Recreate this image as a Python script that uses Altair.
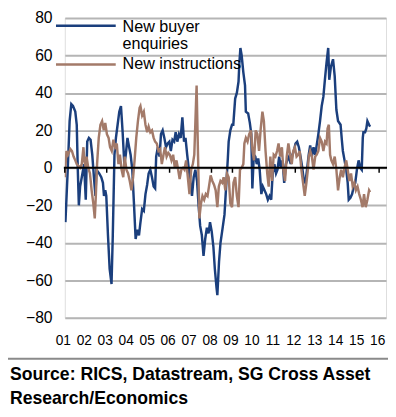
import altair as alt
import pandas as pd

# ---------------- data ----------------
blue_years = [
    2001.03, 2001.14, 2001.23, 2001.31, 2001.39, 2001.50, 2001.57, 2001.62, 2001.67, 2001.73,
    2001.81, 2001.92, 2002.00, 2002.07, 2002.15, 2002.23, 2002.31, 2002.39, 2002.46, 2002.51,
    2002.64, 2002.74, 2002.82, 2002.87, 2002.93, 2002.98, 2003.06, 2003.14, 2003.23, 2003.29,
    2003.37, 2003.44, 2003.52, 2003.60, 2003.68, 2003.76, 2003.84, 2003.91, 2003.99, 2004.07,
    2004.14, 2004.22, 2004.30, 2004.38, 2004.46, 2004.54, 2004.60, 2004.69, 2004.77, 2004.85,
    2004.93, 2005.00, 2005.08, 2005.16, 2005.24, 2005.31, 2005.36, 2005.44, 2005.52, 2005.59,
    2005.67, 2005.75, 2005.83, 2005.91, 2005.99, 2006.06, 2006.14, 2006.22, 2006.29, 2006.37,
    2006.45, 2006.53, 2006.61, 2006.69, 2006.76, 2006.84, 2006.92, 2007.00, 2007.07, 2007.15,
    2007.23, 2007.31, 2007.39, 2007.46, 2007.54, 2007.62, 2007.70, 2007.78, 2007.86, 2007.93,
    2008.01, 2008.09, 2008.16, 2008.24, 2008.28, 2008.36, 2008.43, 2008.52, 2008.62, 2008.71,
    2008.78, 2008.82, 2008.90, 2008.98, 2009.04, 2009.13, 2009.21, 2009.29, 2009.33, 2009.38,
    2009.44, 2009.52, 2009.60, 2009.64, 2009.75, 2009.83, 2009.90, 2009.95, 2010.02, 2010.09,
    2010.16, 2010.23, 2010.30, 2010.38, 2010.45, 2010.53, 2010.61, 2010.69, 2010.77, 2010.85,
    2010.92, 2011.00, 2011.08, 2011.15, 2011.23, 2011.31, 2011.39, 2011.47, 2011.55, 2011.62,
    2011.70, 2011.78, 2011.86, 2011.93, 2012.01, 2012.09, 2012.17, 2012.25, 2012.32, 2012.40,
    2012.48, 2012.56, 2012.64, 2012.71, 2012.79, 2012.87, 2012.95, 2013.02, 2013.10, 2013.18,
    2013.26, 2013.34, 2013.42, 2013.49, 2013.57, 2013.62, 2013.70, 2013.80, 2013.88, 2013.96,
    2014.04, 2014.16, 2014.22, 2014.27, 2014.35, 2014.43, 2014.50, 2014.55, 2014.63, 2014.71,
    2014.79, 2014.86, 2014.94, 2015.02, 2015.10, 2015.17, 2015.22, 2015.25, 2015.33, 2015.39,
    2015.44, 2015.52, 2015.57,
]
blue_vals = [
    -29, -1, 25, 34, 33, 30, 23, -1, -20, -10,
    -5, 2, -17, 14, 16, 15, 7, -5, -15, -1,
    -3, -5, -8, -15, -12, -15, -36, -54, -62, -36,
    7, 16, 23, 30, 33, 19, 2, 7, 16, 11,
    7, -1, -19, -38, -33, -36, -30, -22, -23, -14,
    -9, -3, -1, -5, -10, -11, 6, 11, 6, 18,
    20, 16, 11, 13, 14, 9, 15, 14, 19, 14,
    18, 16, 27, 14, 16, 7, -1, -8, -15, -5,
    -1, -7, -21, -31, -36, -47, -38, -32, -35, -29,
    -34, -42, -54, -64, -68, -50, -40, -33, -25, -8,
    5, 14, 20, 23, 23, 37, 40, 46, 56, 64,
    60, 51, 44, 30, 29, 24, 18, -11, 7, 6,
    2, 5, -1, -14, -10, -12, -14, -17, -15, -17,
    -3, 2, -3, -1, 6, 0, 4, -8, 2, 4,
    6, 2, 7, 9, 13, 14, 11, 6, 1, -6,
    -8, -1, 7, 12, 6, 11, 7, 12, 18, 25,
    33, 38, 48, 56, 64, 47, 54, 58, 49, 31,
    25, 23, 15, 9, 4, -1, -8, -17, -16, -14,
    -10, -8, -1, 4, 0, -1, 16, 19, 19, 21,
    25, 23, 22,
]

brown_years = [
    2001.00, 2001.08, 2001.15, 2001.27, 2001.34, 2001.42, 2001.50, 2001.57, 2001.65, 2001.73,
    2001.81, 2001.89, 2001.93, 2002.00, 2002.04, 2002.12, 2002.20, 2002.28, 2002.36, 2002.43,
    2002.48, 2002.54, 2002.62, 2002.70, 2002.78, 2002.86, 2002.93, 2003.01, 2003.09, 2003.16,
    2003.24, 2003.32, 2003.40, 2003.48, 2003.56, 2003.63, 2003.71, 2003.79, 2003.86, 2003.94,
    2004.02, 2004.10, 2004.18, 2004.26, 2004.33, 2004.41, 2004.49, 2004.57, 2004.61, 2004.69,
    2004.77, 2004.85, 2004.93, 2005.00, 2005.08, 2005.16, 2005.24, 2005.31, 2005.39, 2005.47,
    2005.55, 2005.63, 2005.71, 2005.78, 2005.86, 2005.94, 2006.01, 2006.09, 2006.17, 2006.25,
    2006.33, 2006.41, 2006.48, 2006.56, 2006.64, 2006.71, 2006.79, 2006.87, 2006.95, 2007.03,
    2007.11, 2007.18, 2007.26, 2007.29, 2007.34, 2007.39, 2007.42, 2007.50, 2007.57, 2007.65,
    2007.73, 2007.81, 2007.88, 2007.96, 2008.04, 2008.12, 2008.20, 2008.28, 2008.35, 2008.43,
    2008.51, 2008.58, 2008.66, 2008.74, 2008.82, 2008.90, 2008.98, 2009.05, 2009.13, 2009.21,
    2009.29, 2009.36, 2009.44, 2009.52, 2009.57, 2009.64, 2009.72, 2009.80, 2009.88, 2009.96,
    2010.03, 2010.11, 2010.19, 2010.27, 2010.35, 2010.43, 2010.50, 2010.58, 2010.66, 2010.73,
    2010.81, 2010.89, 2010.97, 2011.05, 2011.13, 2011.20, 2011.28, 2011.36, 2011.43, 2011.51,
    2011.59, 2011.67, 2011.75, 2011.83, 2011.90, 2011.98, 2012.06, 2012.14, 2012.21, 2012.29,
    2012.37, 2012.45, 2012.53, 2012.60, 2012.64, 2012.71, 2012.79, 2012.87, 2012.95, 2013.02,
    2013.10, 2013.18, 2013.26, 2013.34, 2013.42, 2013.49, 2013.54, 2013.60, 2013.66, 2013.72,
    2013.80, 2013.88, 2013.96, 2014.04, 2014.12, 2014.19, 2014.27, 2014.35, 2014.43, 2014.50,
    2014.58, 2014.66, 2014.74, 2014.82, 2014.89, 2014.97, 2015.05, 2015.13, 2015.21, 2015.28,
    2015.36, 2015.44, 2015.52, 2015.57,
]
brown_vals = [
    -5, 9, 7, 10, 9, 6, 4, 2, 1, 0,
    2, 11, 4, 0, 6, 0, -3, -12, -19, -27,
    -15, 2, 16, 23, 25, 20, 24, 18, 16, 11,
    9, 15, 11, 13, 2, 7, -1, -5, 6, -1,
    -3, -7, -12, -5, 4, 16, 25, 32, 33, 28,
    30, 23, 19, 22, 19, 20, 16, 14, 13, 9,
    10, 2, 7, 11, 6, 8, 7, 4, 7, 0,
    4, -1, -6, -1, 0, -1, 4, -5, -14, -1,
    2, 7, 34, 44, 16, -10, -27, -19, -15, -17,
    -14, -15, -10, -4, -7, -9, -12, -21, -10, -7,
    -8, -5, -12, -3, -5, -19, -21, -8, -5, -15,
    -21, -1, 0, 2, 13, 16, 14, 18, 20, 9,
    4, 20, 18, 9, 21, 30, 25, 9, -3, -10,
    6, -7, 7, 6, 9, 13, 6, 11, -1, -7,
    6, 13, 7, 2, 9, 11, 6, 7, 9, -1,
    -8, -15, -8, -1, 6, 9, 6, -1, 6, 7,
    9, 16, 14, 9, 14, 13, 21, 23, 7, 4,
    2, 6, -1, -12, -5, -1, -5, 0, 4, -1,
    -7, -3, -10, -8, -12, -10, -14, -17, -21, -14,
    -21, -17, -12, -13,
]

series_names = ["New buyer enquiries", "New instructions"]
series_colors = ["#1b3f7d", "#a37a69"]
y_tick_values = [-80, -60, -40, -20, 0, 20, 40, 60, 80]
x_label_years = list(range(2001, 2017))
axis_tick_years = [2001, 2003, 2006, 2008, 2009, 2012, 2016]
legend_line1 = ["New buyer"]
legend_line2 = ["enquiries"]
legend_line3 = ["New instructions"]
source_line1 = ["Source: RICS, Datastream, SG Cross Asset"]
source_line2 = ["Research/Economics"]

# ---------------- build ----------------
df = pd.concat([
    pd.DataFrame({"year": blue_years, "value": blue_vals, "series": series_names[0]}),
    pd.DataFrame({"year": brown_years, "value": brown_vals, "series": series_names[1]}),
], ignore_index=True)

W, H = 328, 306
FONT = "Liberation Sans, Arial, Helvetica, sans-serif"

x_scale = alt.Scale(domain=[2001, 2016.33], nice=False, zero=False)
y_scale = alt.Scale(domain=[-80, 80], nice=False)

lines = alt.Chart(df).mark_line(strokeWidth=2.5, clip=True).encode(
    x=alt.X("year:Q", scale=x_scale, title=None,
            axis=alt.Axis(values=x_label_years, tickCount=len(x_label_years) + 4,
                          grid=False, ticks=False, domain=False,
                          labelExpr="substring(toString(datum.value), 2, 4)",
                          labelFont=FONT, labelFontSize=14, labelColor="black",
                          labelPadding=16, labelOverlap=False, labelFlush=False,
                          labelOffset=-2)),
    y=alt.Y("value:Q", scale=y_scale, title=None,
            axis=alt.Axis(values=y_tick_values, tickCount=len(y_tick_values) + 4,
                          grid=True, gridColor="#b5b5b5", gridWidth=2,
                          ticks=False, domain=False, labelFont=FONT, labelFontSize=16,
                          labelColor="black", labelPadding=13, labelOverlap=False)),
    color=alt.Color("series:N", scale=alt.Scale(domain=series_names, range=series_colors),
                    legend=None),
    detail="series:N",
)

zero_rule = alt.Chart(pd.DataFrame({"z": [0]})).mark_rule(color="black", strokeWidth=2).encode(
    y=alt.Y("z:Q", scale=y_scale), x=alt.value(-1), x2=alt.value(W + 1))

ticks = alt.Chart(pd.DataFrame({"t": axis_tick_years})).mark_rule(color="black", strokeWidth=1.5).encode(
    x=alt.X("t:Q", scale=x_scale), y=alt.value(H / 2), y2=alt.value(H / 2 + 5))

leg_blue = alt.Chart(pd.DataFrame({"s": [series_names[0]]})).mark_rule(
    color=series_colors[0], strokeWidth=2.5).encode(
    x=alt.value(-9), x2=alt.value(52), y=alt.value(8))
leg_brown = alt.Chart(pd.DataFrame({"s": [series_names[1]]})).mark_rule(
    color=series_colors[1], strokeWidth=2.5).encode(
    x=alt.value(-9), x2=alt.value(52), y=alt.value(47.5))


def text_layer(lines_, x, y, size=16, bold=False):
    return alt.Chart(pd.DataFrame({"t": lines_})).mark_text(
        align="left", baseline="alphabetic", font=FONT, fontSize=size,
        fontWeight="bold" if bold else "normal", color="black").encode(
        text="t:N", x=alt.value(x), y=alt.value(y))


leg_t1 = text_layer(legend_line1, 59, 14, size=16.5)
leg_t2 = text_layer(legend_line2, 59, 32, size=16.5)
leg_t3 = text_layer(legend_line3, 59, 52, size=16.5)

sep = alt.Chart(pd.DataFrame({"s": [0]})).mark_rule(color="#8a8a8a", strokeWidth=2).encode(
    x=alt.value(-58), x2=alt.value(W + 2), y=alt.value(348))
src1 = text_layer(source_line1, -56, 369.5, size=18, bold=True)
src2 = text_layer(source_line2, -56, 394, size=18, bold=True)

chart = alt.layer(
    lines, zero_rule, ticks, leg_blue, leg_brown, leg_t1, leg_t2, leg_t3, sep, src1, src2
).properties(
    width=W, height=H,
    autosize=alt.AutoSizeParams(type="none"),
    padding={"left": 58, "top": 6, "right": 2, "bottom": 88},
).configure_view(stroke=None).configure(background="white")

chart.save("out.html", embed_options={"renderer": "svg", "actions": False})
